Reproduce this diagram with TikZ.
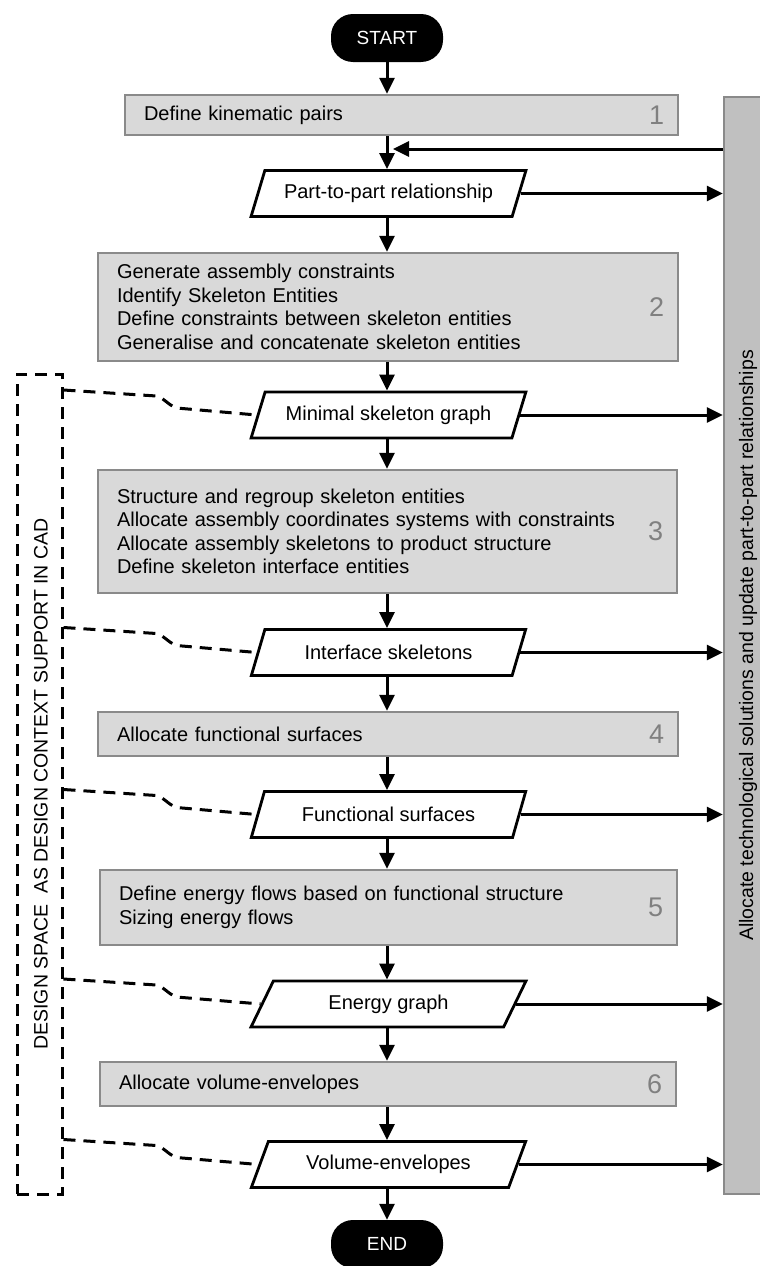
\documentclass[tikz,border=0pt]{standalone}
\usepackage{fontspec}
\setmainfont{Liberation Sans}
\usetikzlibrary{shapes.geometric,arrows.meta,positioning}
\definecolor{boxfill}{HTML}{D9D9D9}
\definecolor{boxline}{HTML}{8A8A8A}
\definecolor{sidefill}{HTML}{C0C0C0}
\definecolor{numgray}{HTML}{808080}
\begin{document}
\begin{tikzpicture}[
  x=1pt, y=-1pt,
  font=\fontsize{20}{23.5}\selectfont,
  terminal/.style={fill=black, text=white, rounded corners=22pt, minimum width=112, minimum height=48, font=\fontsize{19}{22}\selectfont},
  stepbox/.style={draw=boxline, line width=2.5pt, fill=boxfill, align=left, inner xsep=19pt, inner ysep=0pt, minimum width=#1, text width=#1-38pt},
  number/.style={text=numgray, font=\fontsize{27}{27}\selectfont, inner sep=0pt, anchor=east},
  datanode/.style={draw, line width=2.8pt, fill=white, shape=trapezium, trapezium left angle=58, trapezium right angle=122, trapezium stretches=true, minimum width=275, minimum height=46, inner sep=0pt},
  sidebox/.style={draw=boxline, line width=2.5pt, fill=sidefill},
  spacebox/.style={draw, line width=3pt, dash pattern=on 12pt off 8pt},
  arrow/.style={-{Triangle[length=16pt,width=15pt]}, line width=3pt},
  link/.style={line width=3pt, dash pattern=on 12pt off 8pt}
]
\useasboundingbox (0,0) rectangle (760,1266);
\node[sidebox, minimum width=52, minimum height=1097] (side) at (750,645.5) {};
\node[rotate=90, font=\fontsize{19.5}{22}\selectfont] (sidetext) at (748,645.5) {Allocate technological solutions and update part-to-part relationships};
\node[spacebox, minimum width=45, minimum height=820] (space) at (39.5,784) {};
\node[rotate=90, font=\fontsize{19.5}{22}\selectfont] (spacetext) at (41,784) {DESIGN SPACE\ \ AS DESIGN CONTEXT SUPPORT IN CAD};

\node[terminal] (start) at (387,38) {START};
\node[stepbox=553, minimum height=40] (pairs) at (401.5,115) {Define kinematic pairs};
\node[number] (n1) at ([xshift=-15]pairs.east) {1};
\node[datanode] (relation) at (388.5,193.5) {Part-to-part relationship};
\node[stepbox=580, minimum height=108] (constraints) at (388,307) {Generate assembly constraints\\Identify Skeleton Entities\\Define constraints between skeleton entities\\Generalise and concatenate skeleton entities};
\node[number] (n2) at ([xshift=-15]constraints.east) {2};
\node[datanode] (skeleton) at (388.5,415) {Minimal skeleton graph};
\node[stepbox=579, minimum height=123] (regroup) at (387.5,531.5) {Structure and regroup skeleton entities\\Allocate assembly coordinates systems with constraints\\Allocate assembly skeletons to product structure\\Define skeleton interface entities};
\node[number] (n3) at ([xshift=-15]regroup.east) {3};
\node[datanode] (interfaces) at (388.5,652.5) {Interface skeletons};
\node[stepbox=580, minimum height=44] (surfaces) at (388,734) {Allocate functional surfaces};
\node[number] (n4) at ([xshift=-15]surfaces.east) {4};
\node[datanode] (funcsurf) at (388.5,814.5) {Functional surfaces};
\node[stepbox=577, minimum height=75] (flows) at (388.5,907.5) {Define energy flows based on functional structure\\Sizing energy flows};
\node[number] (n5) at ([xshift=-15]flows.east) {5};
\node[datanode] (energy) at (388.5,1004) {Energy graph};
\node[stepbox=576, minimum height=44] (volume) at (388,1084) {Allocate volume-envelopes};
\node[number] (n6) at ([xshift=-15]volume.east) {6};
\node[datanode] (envelopes) at (388.5,1164.5) {Volume-envelopes};
\node[terminal] (finish) at (387,1244) {END};
\coordinate (back) at (393,149);

\draw[arrow] (start) -- (start |- pairs.north);
\draw[arrow] (start |- pairs.south) -- (start |- relation.north);
\draw[arrow] (back -| side.west) -- (back);
\draw[arrow] (start |- relation.south) -- (start |- constraints.north);
\draw[arrow] (start |- constraints.south) -- (start |- skeleton.north);
\draw[arrow] (start |- skeleton.south) -- (start |- regroup.north);
\draw[arrow] (start |- regroup.south) -- (start |- interfaces.north);
\draw[arrow] (start |- interfaces.south) -- (start |- surfaces.north);
\draw[arrow] (start |- surfaces.south) -- (start |- funcsurf.north);
\draw[arrow] (start |- funcsurf.south) -- (start |- flows.north);
\draw[arrow] (start |- flows.south) -- (start |- energy.north);
\draw[arrow] (start |- energy.south) -- (start |- volume.north);
\draw[arrow] (start |- volume.south) -- (start |- envelopes.north);
\draw[arrow] (start |- envelopes.south) -- (finish);

\draw[arrow] (relation.east) -- (relation.east -| side.west);
\draw[arrow] (skeleton.east) -- (skeleton.east -| side.west);
\draw[arrow] (interfaces.east) -- (interfaces.east -| side.west);
\draw[arrow] (funcsurf.east) -- (funcsurf.east -| side.west);
\draw[arrow] (energy.east) -- (energy.east -| side.west);
\draw[arrow] (envelopes.east) -- (envelopes.east -| side.west);

\draw[link] ([yshift=25]skeleton.west -| space.east) -- ++(93,6) .. controls +(8,2) and +(-10,-4) .. ++(20,12) -- (skeleton.west);
\draw[link] ([yshift=25]interfaces.west -| space.east) -- ++(93,6) .. controls +(8,2) and +(-10,-4) .. ++(20,12) -- (interfaces.west);
\draw[link] ([yshift=25]funcsurf.west -| space.east) -- ++(93,6) .. controls +(8,2) and +(-10,-4) .. ++(20,12) -- (funcsurf.west);
\draw[link] ([yshift=25]energy.west -| space.east) -- ++(93,6) .. controls +(8,2) and +(-10,-4) .. ++(20,12) -- (energy.west);
\draw[link] ([yshift=25]envelopes.west -| space.east) -- ++(93,6) .. controls +(8,2) and +(-10,-4) .. ++(20,12) -- (envelopes.west);
\end{tikzpicture}
\end{document}
